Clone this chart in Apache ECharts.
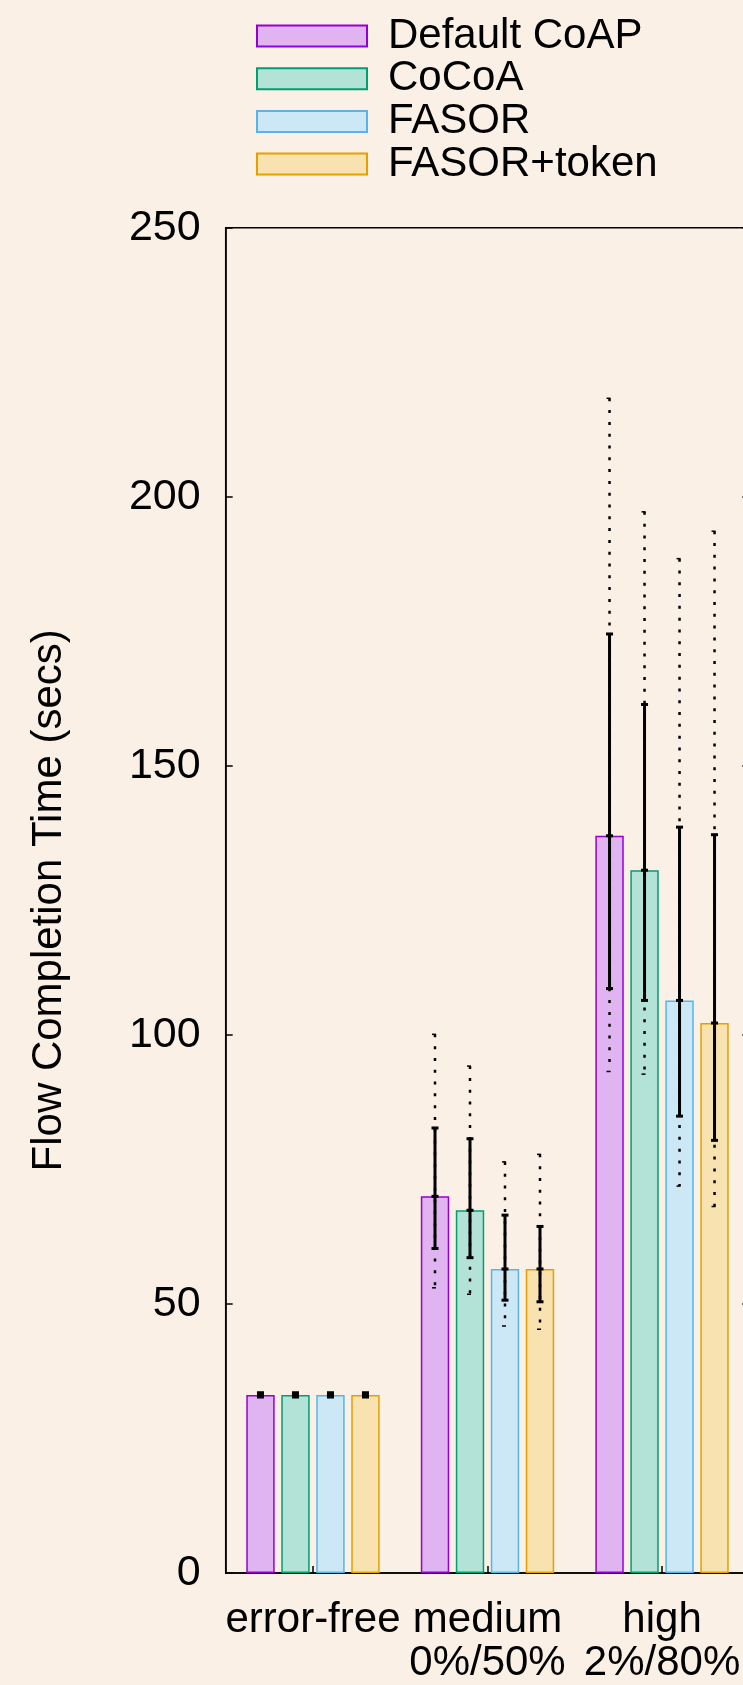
<!DOCTYPE html>
<html>
<head>
<meta charset="utf-8">
<script src="https://cdn.jsdelivr.net/npm/echarts@6/dist/echarts.min.js"></script>
<style>
  html, body { margin: 0; padding: 0; background: #faf0e6; overflow: hidden; }
  #chart { width: 800px; height: 1685px; }
</style>
</head>
<body>
<div id="chart"></div>
<script>
// ---- data ----
var categories = ['error-free', 'medium\n0%/50%', 'high\n2%/80%'];
var seriesNames = ['Default CoAP', 'CoCoA', 'FASOR', 'FASOR+token'];
// mean (bar height)
var meanDefault = [33.1, 70.0, 137.0];
var meanCoCoA   = [33.1, 67.4, 130.6];
var meanFASOR   = [33.1, 56.5, 106.4];
var meanToken   = [33.1, 56.5, 102.2];
// solid error bar low / high
var lowDefault  = [32.7, 60.3, 108.6];
var highDefault = [33.5, 82.7, 174.5];
var lowCoCoA    = [32.7, 58.6, 106.4];
var highCoCoA   = [33.5, 80.7, 161.4];
var lowFASOR    = [32.7, 50.7, 84.9];
var highFASOR   = [33.5, 66.5, 138.6];
var lowToken    = [32.7, 50.4, 80.4];
var highToken   = [33.5, 64.4, 137.2];
// dotted range min / max
var minDefault  = [32.7, 53.0, 93.2];
var maxDefault  = [33.5, 100.1, 218.3];
var minCoCoA    = [32.7, 51.8, 92.7];
var maxCoCoA    = [33.5, 94.2, 197.2];
var minFASOR    = [32.7, 45.9, 71.9];
var maxFASOR    = [33.5, 76.4, 188.5];
var minToken    = [32.7, 45.3, 68.1];
var maxToken    = [33.5, 77.8, 193.6];
var yTicks = [0, 50, 100, 150, 200, 250];

var means = [meanDefault, meanCoCoA, meanFASOR, meanToken];
var lows  = [lowDefault, lowCoCoA, lowFASOR, lowToken];
var highs = [highDefault, highCoCoA, highFASOR, highToken];
var mins  = [minDefault, minCoCoA, minFASOR, minToken];
var maxs  = [maxDefault, maxCoCoA, maxFASOR, maxToken];

// ---- styles ----
var fills   = ['#e0b4f0', '#b3e2d6', '#cce8f6', '#f8e2b0'];
var borders = ['#9400d3', '#009e73', '#56b4e9', '#e69f00'];
var BAR_W = 28.4, BAR_GAP = 6.6;
var FONT = 'Liberation Sans, Arial, Helvetica, sans-serif';
var FS = 42;

var chart = echarts.init(document.getElementById('chart'), null, { renderer: 'canvas' });

var series = [];
seriesNames.forEach(function (name, i) {
  series.push({
    name: name,
    type: 'bar',
    barWidth: BAR_W,
    barGap: (BAR_GAP / BAR_W * 100).toFixed(1) + '%',
    itemStyle: { color: fills[i], borderColor: borders[i], borderWidth: 1.5 },
    emphasis: { disabled: true },
    data: means[i]
  });
});

seriesNames.forEach(function (name, i) {
  var data = categories.map(function (c, k) {
    return [k, means[i][k], lows[i][k], highs[i][k], mins[i][k], maxs[i][k]];
  });
  series.push({
    type: 'custom',
    name: name + ' err',
    z: 10,
    silent: true,
    data: data,
    renderItem: function (params, api) {
      var k = api.value(0);
      var offset = (i - 1.5) * (BAR_W + BAR_GAP);
      var x = api.coord([k, 0])[0] + offset;
      var yMean = api.coord([k, api.value(1)])[1];
      var yLo = api.coord([k, api.value(2)])[1];
      var yHi = api.coord([k, api.value(3)])[1];
      var yMin = api.coord([k, api.value(4)])[1];
      var yMax = api.coord([k, api.value(5)])[1];
      var solid = { stroke: '#000', lineWidth: 3 };
      var cap = 3.5;
      var children = [];
      if (yMin - yMax > (yLo - yHi) + 1) {
        children.push({ type: 'line', shape: { x1: x, y1: yMax, x2: x, y2: yMin },
          style: { stroke: '#000', lineWidth: 2.5, lineDash: [3, 8.8] } });
        children.push({ type: 'line', shape: { x1: x - 3, y1: yMax, x2: x + 1, y2: yMax },
          style: { stroke: '#000', lineWidth: 1.5 } });
        children.push({ type: 'line', shape: { x1: x - 3, y1: yMin, x2: x + 1, y2: yMin },
          style: { stroke: '#000', lineWidth: 1.5 } });
      }
      children.push({ type: 'line', shape: { x1: x, y1: yHi, x2: x, y2: yLo }, style: solid });
      children.push({ type: 'line', shape: { x1: x - cap, y1: yHi, x2: x + cap, y2: yHi }, style: solid });
      children.push({ type: 'line', shape: { x1: x - cap, y1: yLo, x2: x + cap, y2: yLo }, style: solid });
      children.push({ type: 'line', shape: { x1: x - cap, y1: yMean, x2: x + cap, y2: yMean }, style: solid });
      return { type: 'group', children: children };
    }
  });
});

var option = {
  backgroundColor: '#faf0e6',
  animation: false,
  textStyle: { fontFamily: FONT, color: '#000' },
  legend: {
    data: seriesNames.map(function (n) { return { name: n, icon: 'rect' }; }),
    orient: 'vertical',
    left: 251,
    top: 10,
    itemWidth: 110,
    itemHeight: 21,
    itemGap: 0.7,
    textStyle: { fontSize: FS, color: '#000', fontFamily: FONT, padding: [0, 0, 0, 16] },
    selectedMode: false
  },
  grid: {
    left: 225.7,
    top: 227.7,
    width: 523.6,
    height: 1350,
    show: true,
    borderColor: '#000',
    borderWidth: 1.5,
    backgroundColor: 'transparent'
  },
  xAxis: {
    type: 'category',
    data: categories,
    axisLine: { lineStyle: { color: '#000', width: 1.5 } },
    axisTick: { show: true, inside: true, length: 7, alignWithLabel: true, lineStyle: { color: '#000', width: 1.5 } },
    axisLabel: { fontSize: FS, color: '#000', fontFamily: FONT, margin: 26, lineHeight: 43, interval: 0 },
    splitLine: { show: false }
  },
  yAxis: [{
    type: 'value',
    min: yTicks[0],
    max: yTicks[yTicks.length - 1],
    interval: yTicks[1] - yTicks[0],
    name: 'Flow Completion Time (secs)',
    nameLocation: 'middle',
    nameRotate: 90,
    nameGap: 155,
    nameTextStyle: { fontSize: FS, color: '#000', fontFamily: FONT },
    axisLine: { show: true, lineStyle: { color: '#000', width: 1.5 } },
    axisTick: { show: true, inside: true, length: 7, lineStyle: { color: '#000', width: 1.5 } },
    axisLabel: { fontSize: 43, color: '#000', fontFamily: FONT, margin: 25 },
    splitLine: { show: false }
  }, {
    type: 'value',
    position: 'right',
    min: yTicks[0],
    max: yTicks[yTicks.length - 1],
    interval: yTicks[1] - yTicks[0],
    axisLine: { show: true, lineStyle: { color: '#000', width: 1.5 } },
    axisTick: { show: true, inside: true, length: 7, lineStyle: { color: '#000', width: 1.5 } },
    axisLabel: { show: false },
    splitLine: { show: false }
  }],
  series: series
};
chart.setOption(option);
</script>
</body>
</html>
